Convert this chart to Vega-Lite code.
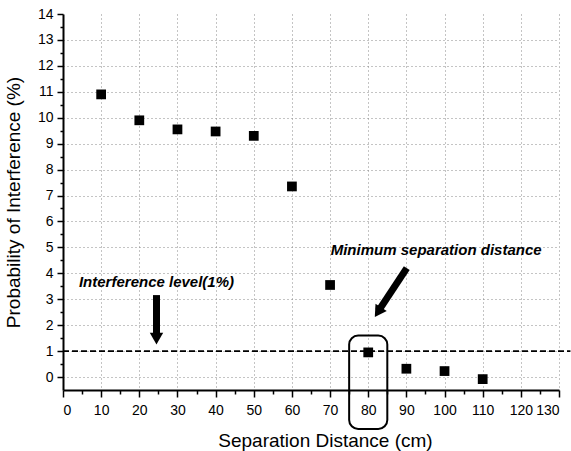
{
  "$schema": "https://vega.github.io/schema/vega-lite/v6.json",
  "width": 496,
  "height": 376,
  "autosize": {"type": "none"},
  "padding": {"left": 63, "top": 14, "right": 12, "bottom": 61},
  "background": "white",
  "config": {
    "view": {"stroke": null},
    "font": "Liberation Sans",
    "axis": {
      "labelFont": "Liberation Sans",
      "titleFont": "Liberation Sans",
      "labelFontSize": 14,
      "titleFontSize": 19,
      "titleFontWeight": "normal",
      "labelColor": "black",
      "titleColor": "black",
      "domainColor": "black",
      "domainWidth": 2,
      "tickColor": "black",
      "tickWidth": 1.5,
      "gridColor": "#888888",
      "gridDash": [1, 3],
      "gridWidth": 1,
      "labelOverlap": false
    }
  },
  "datasets": {
    "pts": [
      {"d": 10, "p": 10.9},
      {"d": 20, "p": 9.9},
      {"d": 30, "p": 9.55},
      {"d": 40, "p": 9.47},
      {"d": 50, "p": 9.3},
      {"d": 60, "p": 7.35},
      {"d": 70, "p": 3.55},
      {"d": 80, "p": 0.95},
      {"d": 90, "p": 0.32},
      {"d": 100, "p": 0.23},
      {"d": 110, "p": -0.08}
    ]
  },
  "layer": [
    {
      "data": {"name": "pts"},
      "mark": {"type": "point", "shape": "square", "filled": true, "color": "black", "size": 95, "opacity": 1},
      "encoding": {
        "x": {
          "field": "d", "type": "quantitative",
          "scale": {"domain": [0, 130], "nice": false, "zero": false},
          "axis": {
            "title": "Separation Distance (cm)",
            "values": [0,5,10,15,20,25,30,35,40,45,50,55,60,65,70,75,80,85,90,95,100,105,110,115,120,125,130],
            "tickCount": 200,
            "labelOverlap": false,
            "labelExpr": "datum.value % 10 === 0 ? format(datum.value, 'd') : ''",
            "tickSize": {"condition": {"test": "datum.value % 10 === 0", "value": 7}, "value": 4},
            "gridOpacity": {"condition": {"test": "datum.value % 10 === 0 && datum.value > 0", "value": 1}, "value": 0},
            "labelPadding": 6,
            "titlePadding": 14,
            "titleX": 262
          }
        },
        "y": {
          "field": "p", "type": "quantitative",
          "scale": {"domain": [-0.5, 14], "nice": false, "zero": false},
          "axis": {
            "title": "Probability of Interference (%)",
            "values": [0,0.5,1,1.5,2,2.5,3,3.5,4,4.5,5,5.5,6,6.5,7,7.5,8,8.5,9,9.5,10,10.5,11,11.5,12,12.5,13,13.5,14],
            "tickCount": 200,
            "labelOverlap": false,
            "labelExpr": "datum.value % 1 === 0 ? format(datum.value, 'd') : ''",
            "tickSize": {"condition": {"test": "datum.value % 1 === 0", "value": 6}, "value": 3},
            "gridOpacity": {"condition": {"test": "datum.value % 1 === 0 && datum.value != 14", "value": 1}, "value": 0},
            "labelPadding": 4,
            "titlePadding": 14
          }
        }
      }
    },
    {
      "data": {"values": [{"x1": 0, "x2": 133, "y": 1}]},
      "mark": {"type": "rule", "color": "black", "strokeWidth": 1.6, "strokeDash": [6, 3]},
      "encoding": {
        "x": {"field": "x1", "type": "quantitative"},
        "x2": {"field": "x2"},
        "y": {"field": "y", "type": "quantitative"}
      }
    },
    {
      "data": {"values": [{"x1": 75, "x2": 85, "y1": -2, "y2": 1.6}]},
      "mark": {"type": "rect", "fill": null, "fillOpacity": 0, "stroke": "black", "strokeWidth": 2, "cornerRadius": 9},
      "encoding": {
        "x": {"field": "x1", "type": "quantitative"},
        "x2": {"field": "x2"},
        "y": {"field": "y1", "type": "quantitative"},
        "y2": {"field": "y2"}
      }
    },
    {
      "data": {"values": [
        {"x1": 24.5, "y1": 3.16, "x2": 24.5, "y2": 1.55},
        {"x1": 90.1, "y1": 4.2, "x2": 82.7, "y2": 2.55}
      ]},
      "mark": {"type": "rule", "color": "black", "strokeWidth": 7},
      "encoding": {
        "x": {"field": "x1", "type": "quantitative"},
        "x2": {"field": "x2"},
        "y": {"field": "y1", "type": "quantitative"},
        "y2": {"field": "y2"}
      }
    },
    {
      "data": {"values": [
        {"x": 24.5, "y": 1.48, "a": 0},
        {"x": 82.55, "y": 2.5, "a": 33}
      ]},
      "mark": {"type": "point", "shape": "triangle-down", "filled": true, "color": "black", "size": 180, "opacity": 1},
      "encoding": {
        "x": {"field": "x", "type": "quantitative"},
        "y": {"field": "y", "type": "quantitative"},
        "angle": {"field": "a", "type": "quantitative", "scale": null}
      }
    },
    {
      "data": {"values": [
        {"x": 24.5, "y": 3.65, "t": "Interference level(1%)"},
        {"x": 97.8, "y": 4.9, "t": "Minimum separation distance"}
      ]},
      "mark": {"type": "text", "font": "Liberation Sans", "fontSize": 15, "fontWeight": "bold", "fontStyle": "italic", "color": "black", "align": "center", "baseline": "middle"},
      "encoding": {
        "x": {"field": "x", "type": "quantitative"},
        "y": {"field": "y", "type": "quantitative"},
        "text": {"field": "t"}
      }
    }
  ]
}
